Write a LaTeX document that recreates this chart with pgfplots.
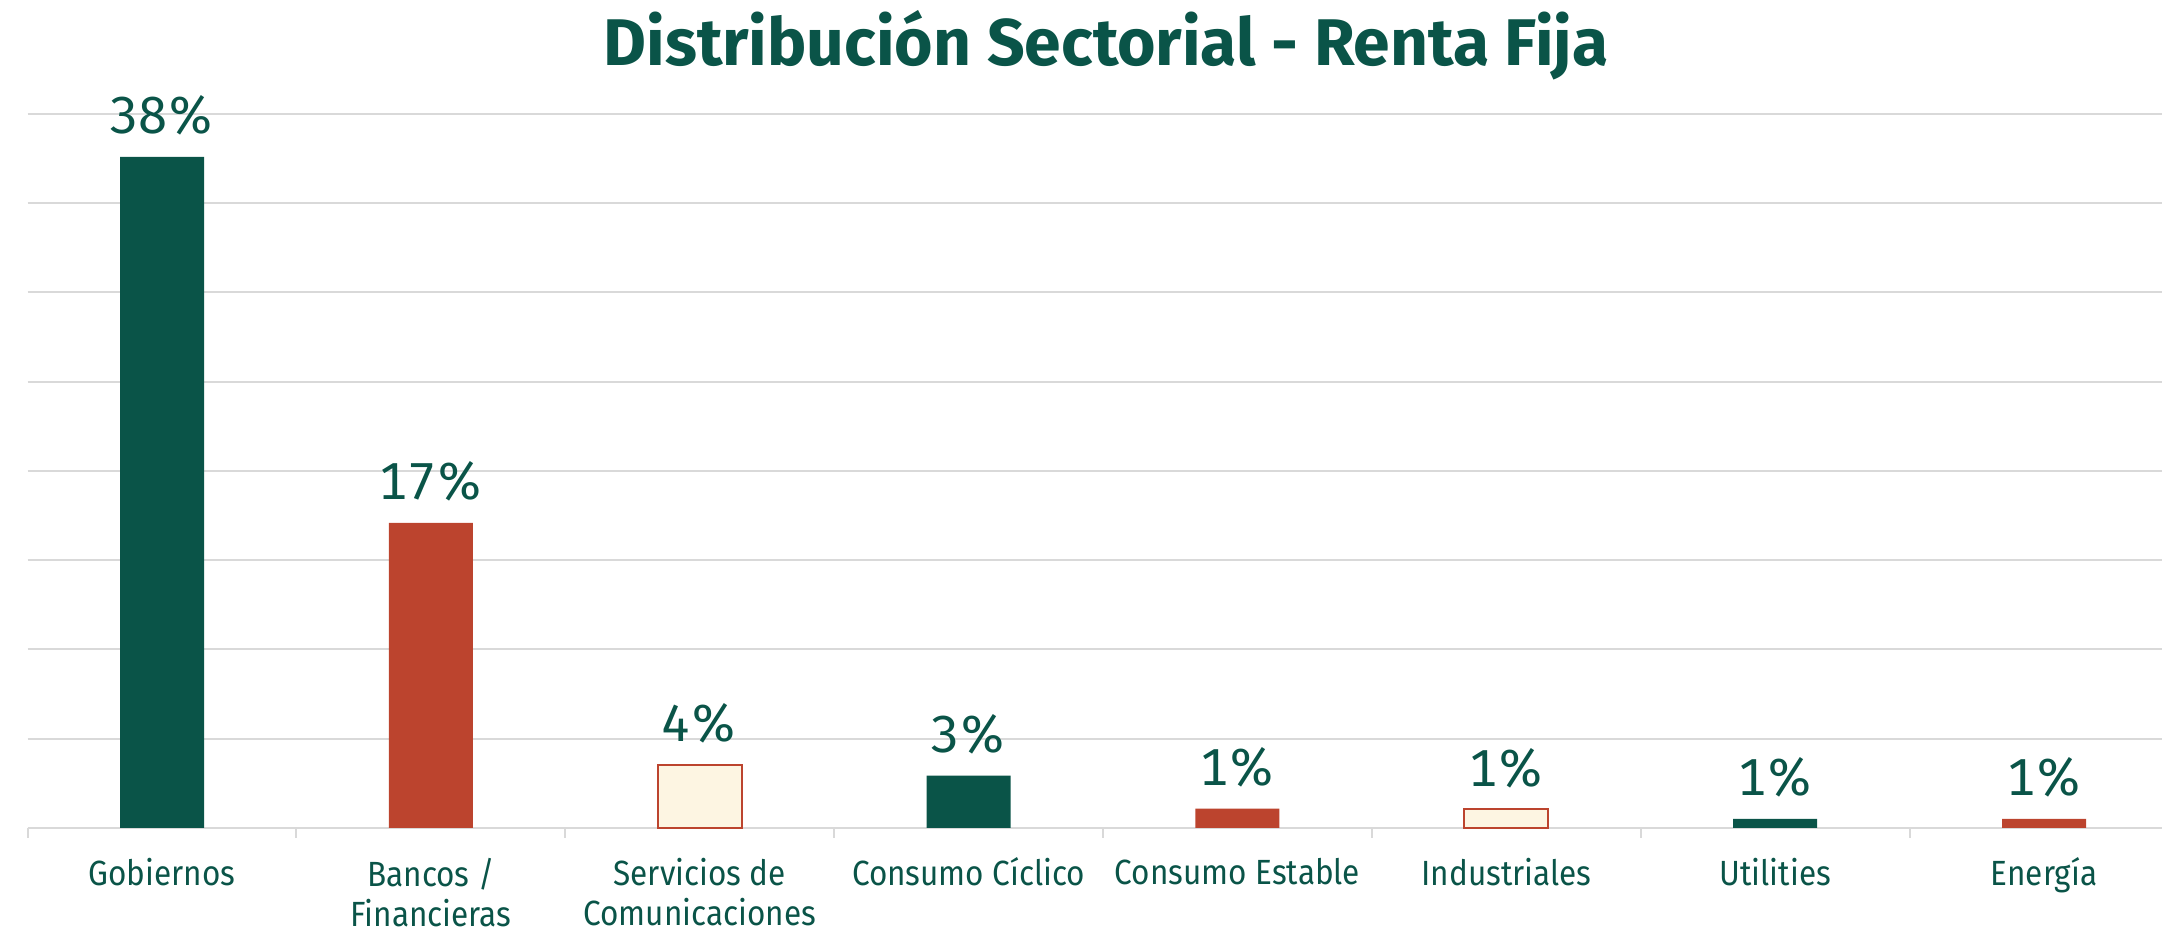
\documentclass[border=0pt]{standalone}
\usepackage{fontspec}
\setmainfont{Fira Sans}
\newfontfamily\labelfont[FakeStretch=0.9]{Fira Sans}
\newfontfamily\numfont[Numbers=Monospaced]{Fira Sans}
\usepackage{pgfplots}
\pgfplotsset{compat=1.18}
\definecolor{dgreen}{HTML}{0A5448}
\definecolor{dred}{HTML}{BC442E}
\definecolor{cream}{HTML}{FDF5E2}
\definecolor{gridgray}{HTML}{D9D9D9}
\begin{document}
\begin{tikzpicture}
\path[use as bounding box] (0,0) rectangle (1081pt,465.5pt);
\begin{axis}[
  at={(13.8pt,51.5pt)}, anchor=south west,
  width=1075.5pt, height=357pt, scale only axis,
  xmin=-0.5, xmax=7.5, ymin=0, ymax=40,
  ybar, bar width=42pt, bar shift=0pt,
  axis line style={draw=none},
  tick pos=left,
  ytick={0,5,...,40}, yticklabels={}, ymajorgrids,
  grid style={gridgray, line width=1pt},
  major y tick style={draw=none},
  xtick={0,...,7},
  xticklabels={
    {\rule{0pt}{13pt}Gobiernos},
    {\rule{0pt}{13pt}Bancos /\\Financieras},
    {\rule{0pt}{13pt}Servicios de\\Comunicaciones},
    {\rule{0pt}{13pt}Consumo Cíclico},
    {\rule{0pt}{13pt}Consumo Estable},
    {\rule{0pt}{13pt}Industriales},
    {\rule{0pt}{13pt}Utilities},
    {\rule{0pt}{13pt}Energía}},
  major x tick style={draw=none},
  xticklabel style={font=\labelfont\fontsize{17.5}{20}\selectfont, text=dgreen, align=center, anchor=north, inner sep=0pt, yshift=-10.5pt},
  extra x ticks={-0.5,0.5,...,6.5},
  extra x tick labels={},
  extra x tick style={tick align=outside, tick pos=left, major tick length=5pt, major x tick style={draw=gridgray, line width=1pt}, xmajorgrids=false},
  point meta=explicit symbolic,
  nodes near coords,
  every node near coord/.append style={font=\numfont\fontsize{26}{30}\selectfont, text=dgreen, anchor=base, yshift=11.5pt, inner sep=0pt},
  clip=false,
]
\addplot[fill=dgreen, draw=none] coordinates {(0,37.6)[38\%] (3,2.94)[3\%] (6,0.51)[1\%]};
\addplot[fill=dred, draw=none] coordinates {(1,17.1)[17\%] (4,1.08)[1\%] (7,0.51)[1\%]};
\addplot[fill=cream, draw=dred, line width=1pt] coordinates {(2,3.55)[4\%] (5,1.05)[1\%]};
\end{axis}
\node[anchor=base, inner sep=0pt, text=dgreen, font=\fontsize{33}{38}\selectfont\bfseries] at (553pt,432.7pt) {Distribución Sectorial - Renta Fija};
\end{tikzpicture}
\end{document}
